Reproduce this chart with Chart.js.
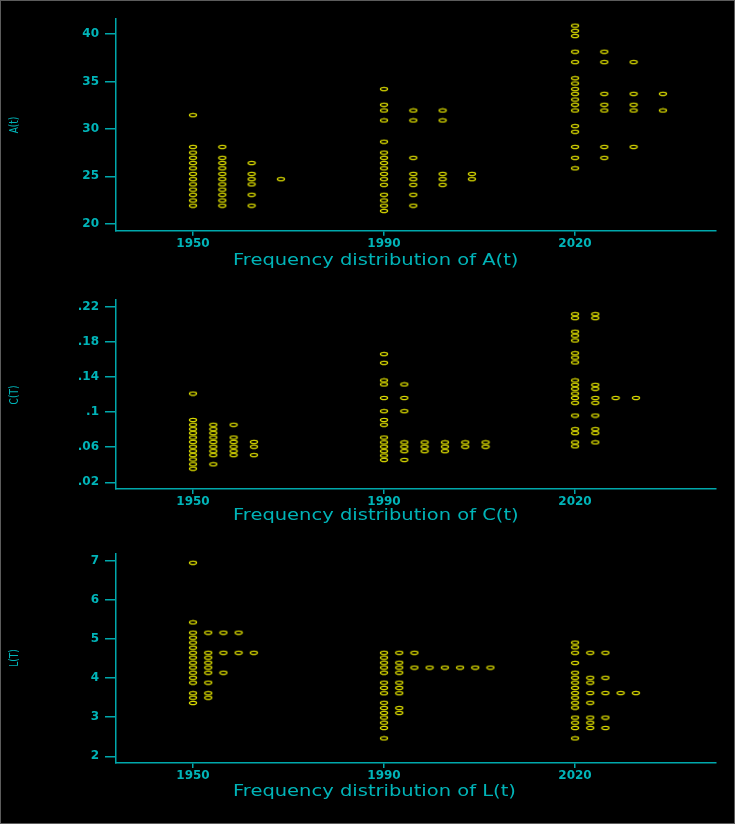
<!DOCTYPE html>
<html><head><meta charset="utf-8">
<script src="https://cdn.jsdelivr.net/npm/chart.js@4.4.1/dist/chart.umd.min.js"></script>
<style>
html,body{margin:0;padding:0;background:#000;}
#wrap{position:relative;width:735px;height:824px;background:#000;overflow:hidden;}
canvas{position:absolute;left:0;}
#frame{position:absolute;left:0;top:0;width:735px;height:824px;box-sizing:border-box;border:1px solid #5c5c5c;pointer-events:none;}
</style></head><body>
<div id="wrap">
<canvas id="c1" width="735" height="280" style="top:0px"></canvas>
<canvas id="c2" width="735" height="260" style="top:280px"></canvas>
<canvas id="c3" width="735" height="284" style="top:540px"></canvas>
<div id="frame"></div>
</div>
<script>
// ---------- data ----------
const groups = ['1950', '1990', '2020'];

const A_1950_vals = [31.45, 28.1, 27.5, 26.95, 26.4, 25.85, 25.25, 24.7, 24.15, 23.6, 23.05, 22.45, 21.9];
const A_1950_freq = [1, 2, 1, 2, 3, 2, 3, 4, 3, 2, 3, 2, 3];
const A_1990_vals = [34.2, 32.55, 31.95, 30.9, 28.65, 27.5, 26.95, 26.4, 25.85, 25.25, 24.7, 24.1, 23.05, 22.45, 21.9, 21.35];
const A_1990_freq = [1, 1, 3, 3, 1, 1, 2, 1, 1, 4, 4, 3, 2, 1, 2, 1];
const A_2020_vals = [40.9, 40.35, 39.8, 38.15, 37.05, 35.35, 34.8, 34.2, 33.7, 33.1, 32.55, 31.95, 30.3, 29.7, 28.1, 26.95, 25.85];
const A_2020_freq = [1, 1, 1, 2, 3, 1, 1, 1, 4, 1, 3, 4, 1, 1, 3, 2, 1];

const C_1950_vals = [0.121, 0.091, 0.0855, 0.0805, 0.076, 0.071, 0.066, 0.0605, 0.0555, 0.051, 0.046, 0.0405, 0.0355];
const C_1950_freq = [1, 1, 3, 2, 2, 3, 4, 4, 3, 4, 1, 2, 1];
const C_1990_vals = [0.166, 0.156, 0.136, 0.1315, 0.116, 0.101, 0.091, 0.0855, 0.071, 0.0655, 0.0605, 0.0555, 0.0505, 0.0455];
const C_1990_freq = [1, 1, 1, 2, 2, 2, 1, 1, 1, 6, 6, 4, 1, 2];
const C_2020_vals = [0.2115, 0.207, 0.1915, 0.187, 0.1815, 0.167, 0.162, 0.1565, 0.136, 0.131, 0.1265, 0.121, 0.116, 0.1105, 0.096, 0.0805, 0.076, 0.0655, 0.061];
const C_2020_freq = [2, 2, 1, 1, 1, 1, 1, 1, 1, 2, 2, 1, 4, 2, 2, 2, 2, 2, 1];

const L_1950_vals = [6.955, 5.43, 5.165, 5.035, 4.91, 4.78, 4.65, 4.525, 4.395, 4.27, 4.14, 4.01, 3.885, 3.615, 3.5, 3.365];
const L_1950_freq = [1, 1, 4, 1, 1, 1, 5, 2, 2, 2, 3, 1, 2, 2, 2, 1];
const L_1990_vals = [4.65, 4.525, 4.395, 4.27, 4.14, 3.885, 3.75, 3.615, 3.37, 3.235, 3.11, 2.99, 2.86, 2.725, 2.46];
const L_1990_freq = [3, 1, 2, 8, 2, 2, 2, 2, 1, 2, 2, 1, 1, 1, 1];
const L_2020_vals = [4.91, 4.79, 4.65, 4.39, 4.14, 4.01, 3.885, 3.75, 3.62, 3.5, 3.37, 3.245, 2.99, 2.86, 2.725, 2.46];
const L_2020_freq = [1, 1, 3, 1, 1, 3, 2, 1, 5, 1, 2, 1, 3, 2, 3, 1];

const A_ticks = [20, 25, 30, 35, 40];
const A_tickLabels = ['20', '25', '30', '35', '40'];
const C_ticks = [0.02, 0.06, 0.1, 0.14, 0.18, 0.22];
const C_tickLabels = ['.02', '.06', '.1', '.14', '.18', '.22'];
const L_ticks = [2, 3, 4, 5, 6, 7];
const L_tickLabels = ['2', '3', '4', '5', '6', '7'];

// ---------- style / layout ----------
const AX = '#00a8ac';
const TXT = '#00b4b8';
const DOT = 'rgb(214,214,0)';
const FONT = '"DejaVu Sans", Verdana, sans-serif';
const X_MIN = -0.4031, X_MAX = 2.7382;

function makeMarker() {
  const c = document.createElement('canvas');
  c.width = 10; c.height = 6;
  const g = c.getContext('2d');
  g.strokeStyle = DOT;
  g.lineWidth = 1.3;
  g.beginPath();
  g.ellipse(5, 3, 3.6, 1.7, 0, 0, Math.PI * 2);
  g.stroke();
  return c;
}
const marker = makeMarker();

function buildPoints(valsList, freqList, colStep) {
  const pts = [];
  valsList.forEach((vals, g) => {
    vals.forEach((v, i) => {
      for (let k = 0; k < freqList[g][i]; k++) pts.push({ x: g + k * colStep, y: v });
    });
  });
  return pts;
}

const textPlugin = {
  id: 'panelText',
  afterDraw(chart, args, o) {
    const ctx = chart.ctx;
    ctx.save();
    ctx.fillStyle = TXT;
    ctx.font = o.xFont;
    ctx.textAlign = 'left';
    ctx.textBaseline = 'middle';
    ctx.translate(o.xTitleX, o.xTitleY);
    ctx.scale(o.stretch, 1);
    ctx.fillText(o.xTitle, 0, 0);
    ctx.restore();
    ctx.save();
    ctx.fillStyle = TXT;
    ctx.font = o.yFont;
    ctx.textAlign = 'center';
    ctx.textBaseline = 'middle';
    ctx.translate(o.yTitleX, o.yTitleY);
    ctx.scale(o.stretch, 1);
    ctx.rotate(-Math.PI / 2);
    ctx.fillText(o.yTitle, 0, 0);
    ctx.restore();
  }
};

function makeChart(id, cfg) {
  const H = cfg.H;
  return new Chart(document.getElementById(id), {
    type: 'scatter',
    data: {
      datasets: [{
        data: buildPoints(cfg.vals, cfg.freqs, cfg.colStep),
        pointStyle: marker,
        pointRadius: 3,
        showLine: false
      }]
    },
    options: {
      responsive: false,
      animation: false,
      events: [],
      layout: { padding: { top: cfg.top, right: 19, left: 0, bottom: 0 } },
      plugins: {
        legend: { display: false },
        tooltip: { enabled: false },
        panelText: {
          xTitle: cfg.xTitle, xTitleX: 233, xTitleY: cfg.xTitleY, xFont: '15px ' + FONT,
          yTitle: cfg.yTitle, yTitleX: 15, yTitleY: cfg.yTitleY, yFont: '9px ' + FONT,
          stretch: 1.3
        }
      },
      scales: {
        x: {
          type: 'linear', min: X_MIN, max: X_MAX,
          afterBuildTicks: s => { s.ticks = groups.map((g, i) => ({ value: i })); },
          afterFit: s => { s.height = H - cfg.bottom; },
          ticks: {
            callback: v => groups[v], color: TXT, padding: 1, maxRotation: 0, autoSkip: false,
            font: { family: FONT, size: 12, weight: 'bold' }
          },
          grid: { drawOnChartArea: false, drawTicks: true, tickLength: 5, color: AX, lineWidth: 1.5 },
          border: { display: true, color: AX, width: 1.5 }
        },
        y: {
          type: 'linear', min: cfg.yMin, max: cfg.yMax,
          afterBuildTicks: s => { s.ticks = cfg.ticks.map(v => ({ value: v })); },
          afterFit: s => { s.width = 116; },
          ticks: {
            callback: (v, i) => cfg.tickLabels[i], color: TXT, padding: 6, autoSkip: false,
            font: { family: FONT, size: 12, weight: 'bold' }
          },
          grid: { drawOnChartArea: false, drawTicks: true, tickLength: 11, color: AX, lineWidth: 1.5 },
          border: { display: true, color: AX, width: 1.5 }
        }
      }
    },
    plugins: [textPlugin]
  });
}

makeChart('c1', {
  H: 280, top: 19, bottom: 230.7,
  vals: [A_1950_vals, A_1990_vals, A_2020_vals], freqs: [A_1950_freq, A_1990_freq, A_2020_freq],
  colStep: 0.1534, yMin: 19.26, yMax: 41.6, ticks: A_ticks, tickLabels: A_tickLabels,
  xTitle: 'Frequency distribution of A(t)', xTitleY: 261, yTitle: 'A(t)', yTitleY: 125
});
makeChart('c2', {
  H: 260, top: 20, bottom: 209,
  vals: [C_1950_vals, C_1990_vals, C_2020_vals], freqs: [C_1950_freq, C_1990_freq, C_2020_freq],
  colStep: 0.1063, yMin: 0.01237, yMax: 0.2276, ticks: C_ticks, tickLabels: C_tickLabels,
  xTitle: 'Frequency distribution of C(t)', xTitleY: 236, yTitle: 'C(T)', yTitleY: 115
});
makeChart('c3', {
  H: 284, top: 13.3, bottom: 223,
  vals: [L_1950_vals, L_1990_vals, L_2020_vals], freqs: [L_1950_freq, L_1990_freq, L_2020_freq],
  colStep: 0.0796, yMin: 1.828, yMax: 7.197, ticks: L_ticks, tickLabels: L_tickLabels,
  xTitle: 'Frequency distribution of L(t)', xTitleY: 252, yTitle: 'L(T)', yTitleY: 118
});
</script>
</body></html>
